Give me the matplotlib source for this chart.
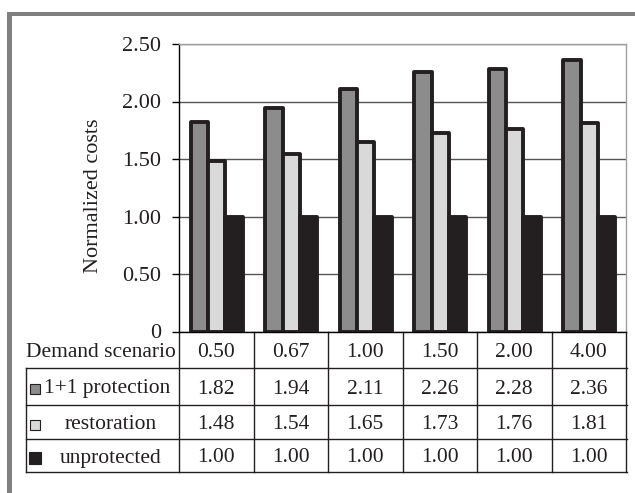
import matplotlib
matplotlib.use("Agg")
import matplotlib.pyplot as plt
import numpy as np
from matplotlib.transforms import blended_transform_factory
from matplotlib.patches import Rectangle
from matplotlib.lines import Line2D

scenarios = ["0.50", "0.67", "1.00", "1.50", "2.00", "4.00"]
series_names = ["1+1 protection", "restoration", "unprotected"]
protection = [1.82, 1.94, 2.11, 2.26, 2.28, 2.36]
restoration = [1.48, 1.54, 1.65, 1.73, 1.76, 1.81]
unprotected = [1.00, 1.00, 1.00, 1.00, 1.00, 1.00]
yticks = [0, 0.5, 1.0, 1.5, 2.0, 2.5]
ytick_labels = ["0", "0.50", "1.00", "1.50", "2.00", "2.50"]
colors = ["#8c8c8c", "#d9d9d9", "#231f20"]

plt.rcParams['font.family'] = ['Liberation Serif', 'DejaVu Serif']
W, H = 635, 493
fig = plt.figure(figsize=(W / 100, H / 100), dpi=100)

def fx(px):
    return px / W

def fy(py):
    return (H - py) / H

# frame
fig.patches.append(Rectangle((fx(7), fy(16)), fx(635) - fx(7), fy(12) - fy(16),
                             transform=fig.transFigure, color="#808080", lw=0))
fig.patches.append(Rectangle((fx(7), fy(493)), fx(12) - fx(7), fy(12) - fy(493),
                             transform=fig.transFigure, color="#808080", lw=0))

left, right, top, bottom = 179, 626, 44, 331.5
ax = fig.add_axes([fx(left), fy(bottom), fx(right) - fx(left), fy(top) - fy(bottom)])

x = np.arange(len(scenarios))
bw = 0.233
all_series = [protection, restoration, unprotected]
for i, vals in enumerate(all_series):
    bars = ax.bar(x + (i - 1) * bw + 0.007, vals, width=bw, color=colors[i],
                  edgecolor="#231f20", linewidth=2.8, zorder=3)
    for b in bars:
        b.set_joinstyle("round")

ax.set_xlim(-0.5, len(scenarios) - 0.5)
ax.set_ylim(0, 2.5)
ax.set_yticks(yticks)
ax.set_yticklabels(ytick_labels, fontsize=16)
ax.set_xticks([])
ax.yaxis.grid(True, color="#555555", linewidth=1.0, zorder=0)
ax.tick_params(axis='y', length=5, width=1.0, color="black", pad=8, labelcolor="#231f20")
for s in ["top", "right"]:
    ax.spines[s].set_color("#a0a0a0")
    ax.spines[s].set_linewidth(1.0)
ax.spines["left"].set_color("black")
ax.spines["bottom"].set_color("black")
ax.spines["left"].set_linewidth(1.0)
ax.spines["bottom"].set_linewidth(1.0)
ax.set_ylabel("Normalized costs", fontsize=16, color="#231f20")
ax.yaxis.set_label_coords((103 - left) / (right - left), (bottom - 196) / (bottom - top))

# data table below
tr = blended_transform_factory(ax.transData, fig.transFigure)
row_edges = [332, 368, 405, 439, 472]
n = len(scenarios)
lc = "#231f20"
for ry in row_edges[1:]:
    fig.lines.append(Line2D([fx(26), fx(right + 1)], [fy(ry), fy(ry)],
                            transform=fig.transFigure, color=lc, lw=1.0))
for b in np.arange(-0.5, n, 1.0):
    ax.plot([b, b], [fy(row_edges[0]), fy(row_edges[-1])], transform=tr,
            color=lc, lw=1.0, clip_on=False)
fig.lines.append(Line2D([fx(26), fx(26)], [fy(row_edges[1]), fy(row_edges[-1])],
                        transform=fig.transFigure, color=lc, lw=1.0))

fs = 15.5
centers = [(row_edges[k] + row_edges[k + 1]) / 2 + 2.5 for k in range(4)]
ax.text(fx(101), fy(centers[0]), "Demand scenario", transform=fig.transFigure,
        ha="center", va="center", fontsize=fs, color=lc)
for j, lab in enumerate(scenarios):
    ax.text(j, fy(centers[0]), lab, transform=tr, ha="center", va="center",
            fontsize=fs, color=lc)
label_x = [107.5, 111, 111]
marker_x = [35, 35, 35]
marker_size = [7, 7, 9]
for i, name in enumerate(series_names):
    cy = centers[i + 1]
    fig.lines.append(Line2D([fx(marker_x[i])], [fy(cy)], transform=fig.transFigure,
                            marker="s", markersize=marker_size[i], markerfacecolor=colors[i],
                            markeredgecolor=lc, markeredgewidth=0.8, linestyle="none"))
    ax.text(fx(label_x[i]), fy(cy), name, transform=fig.transFigure,
            ha="center", va="center", fontsize=fs, color=lc)
    for j, v in enumerate(all_series[i]):
        ax.text(j, fy(cy), f"{v:.2f}", transform=tr, ha="center", va="center",
                fontsize=fs, color=lc)

fig.savefig("out.png", dpi=100)
